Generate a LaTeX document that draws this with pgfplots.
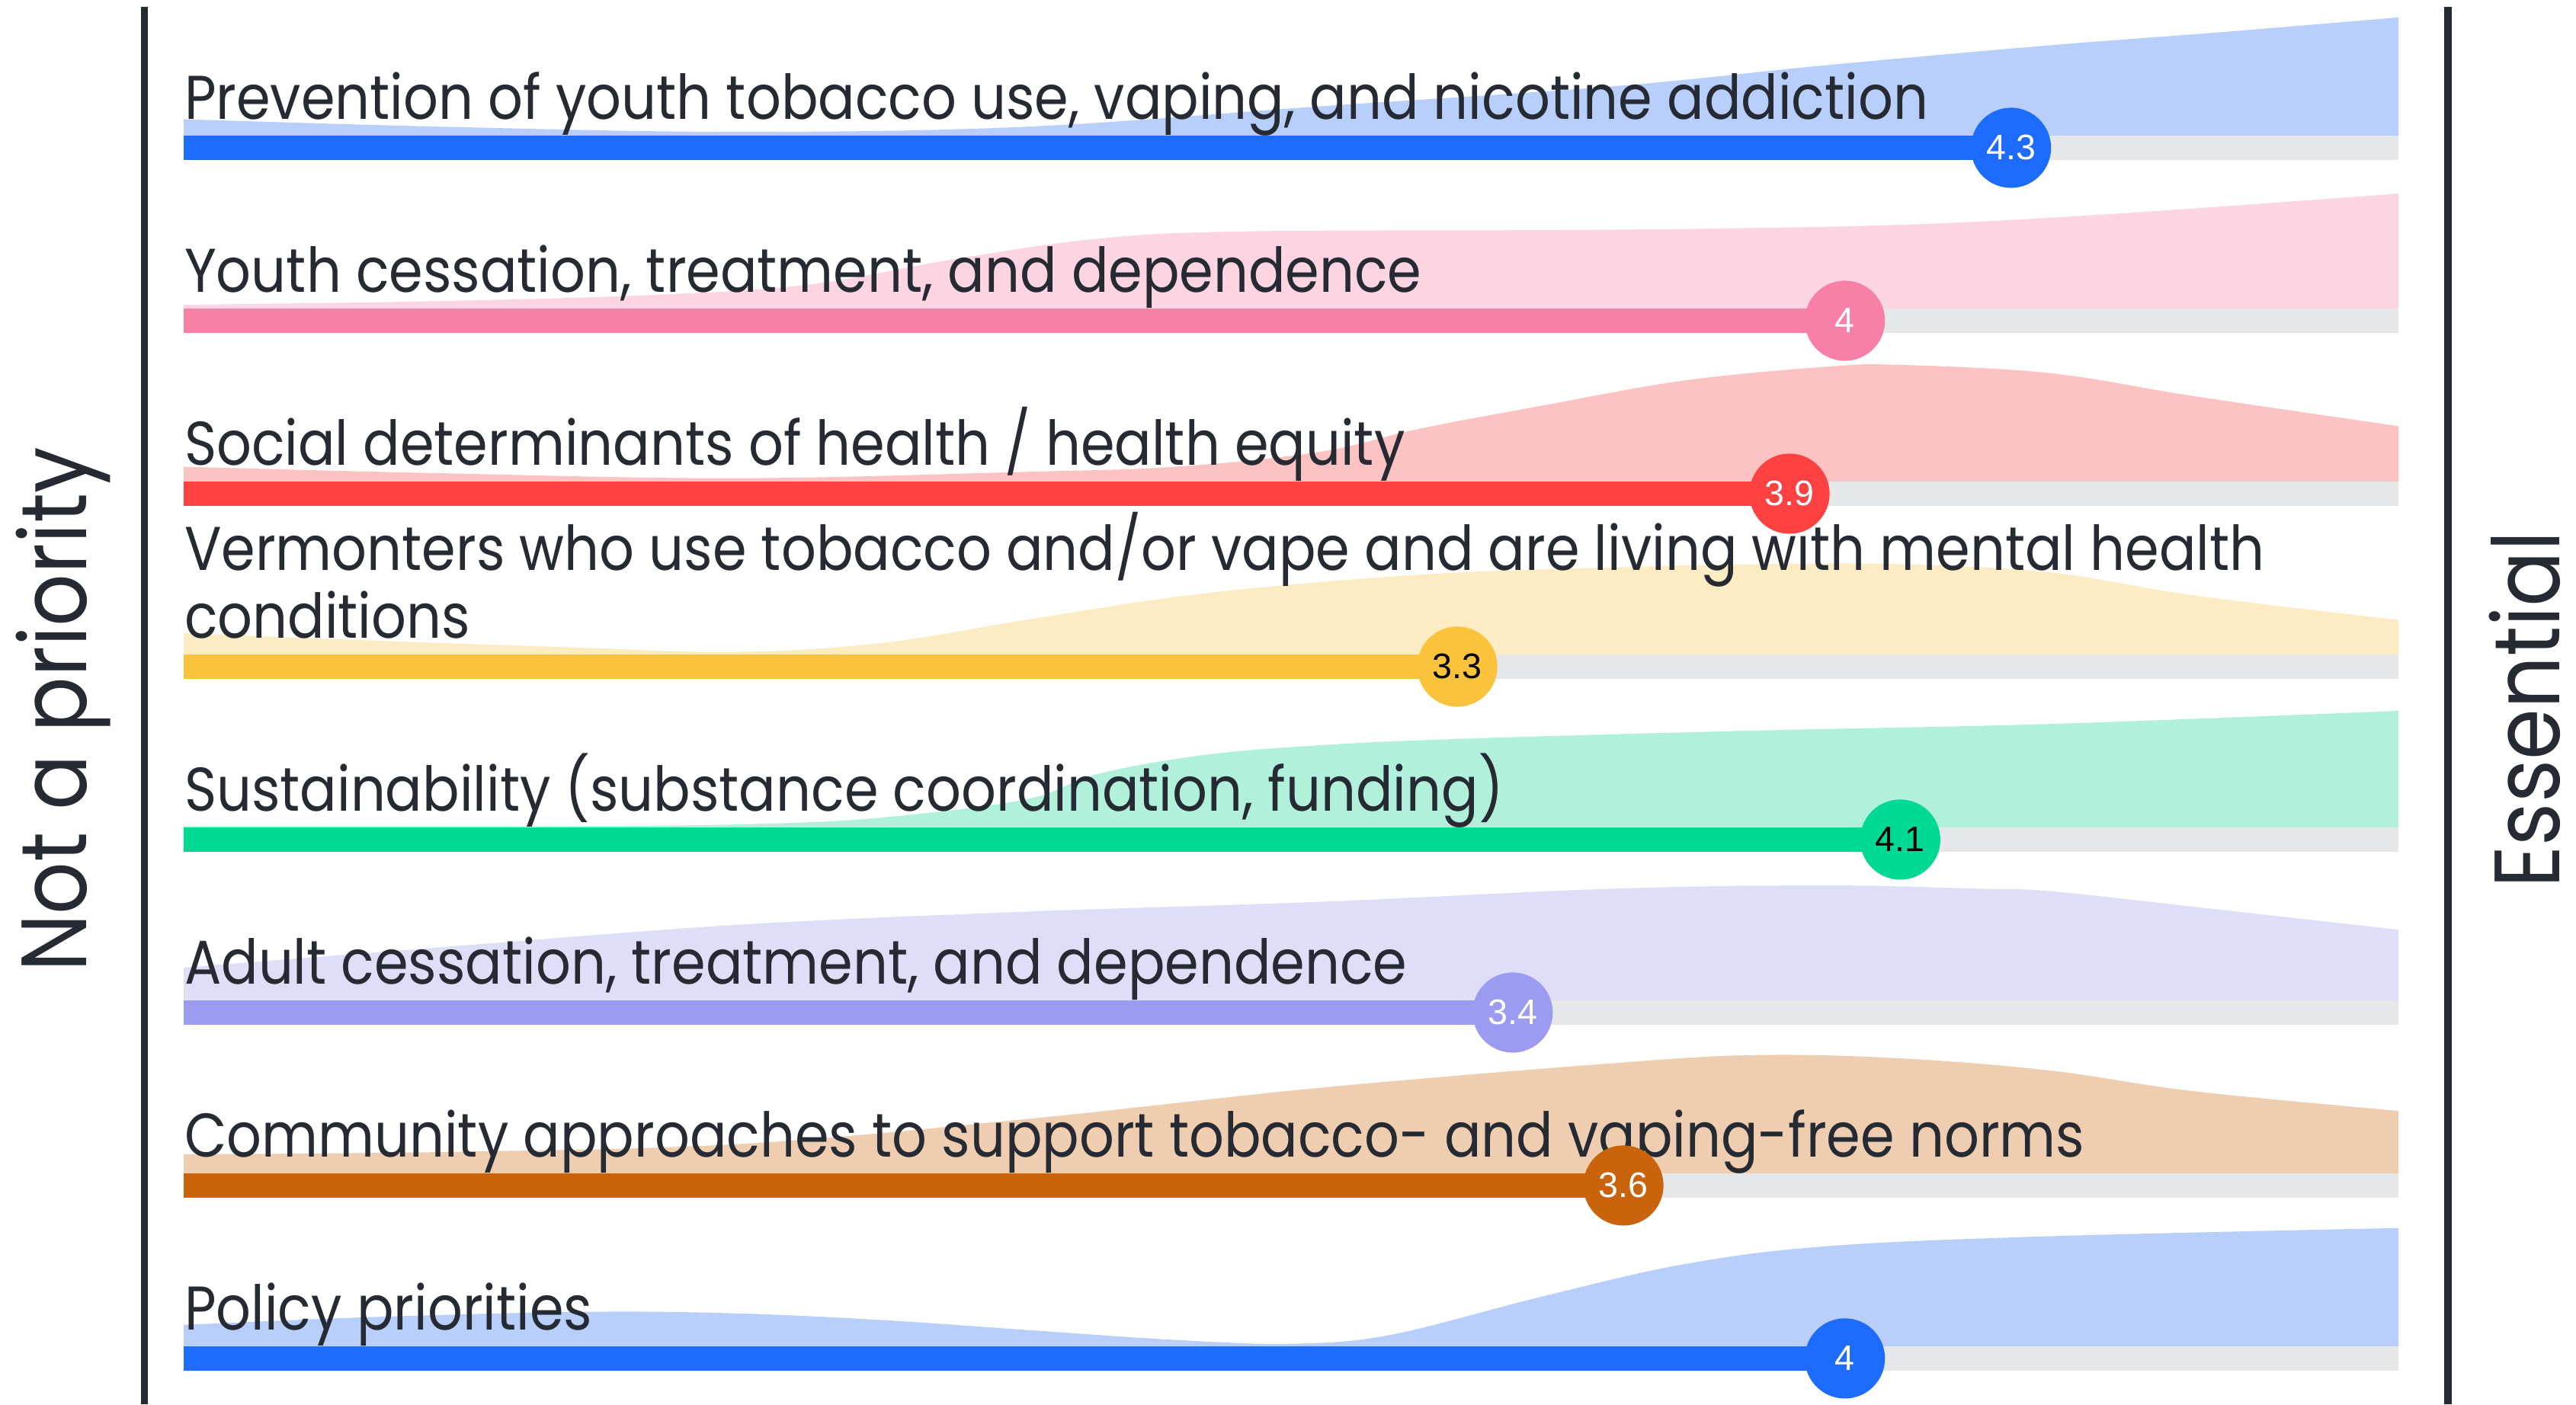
\documentclass[border=0pt]{standalone}
\usepackage{pgfplots}
\pgfplotsset{compat=1.18}
\usepgfplotslibrary{fillbetween}
\usepackage{fontspec}
\setmainfont{Poppins}
\newfontfamily\lab[FakeStretch=0.886]{Poppins}
\newfontfamily\num{Liberation Sans}
\definecolor{blueD}{HTML}{1E6BFF}
\definecolor{blueL}{HTML}{B8CFFB}
\definecolor{pinkD}{HTML}{F880A7}
\definecolor{pinkL}{HTML}{FDD5E2}
\definecolor{redD}{HTML}{FF4141}
\definecolor{redL}{HTML}{FDC3C3}
\definecolor{yelD}{HTML}{FBC33B}
\definecolor{yelL}{HTML}{FDEBC4}
\definecolor{grnD}{HTML}{00D993}
\definecolor{grnL}{HTML}{B1F1DC}
\definecolor{lavD}{HTML}{9A9BF1}
\definecolor{lavL}{HTML}{DEDEF9}
\definecolor{orgD}{HTML}{C9640C}
\definecolor{orgL}{HTML}{EFCDB1}
\definecolor{grayB}{HTML}{E6E7E9}
\definecolor{ink}{HTML}{262A33}
\newcommand{\labfont}{\lab\fontsize{18.8}{22}\selectfont}
\newcommand{\sidefont}{\lab\fontsize{28.2}{32}\selectfont}
\begin{document}
\begin{tikzpicture}
\begin{axis}[scale only axis, width=784pt, height=427.5pt,
  xmin=0.668, xmax=5.3205, ymin=0, ymax=855,
  axis lines=none, clip=false,
  dens/.style={draw=none, smooth, tension=0.6},
  base/.style={draw=none},
  gbar/.style={draw=grayB, line width=7.4pt, line cap=butt},
  cbar/.style={line width=7.4pt, line cap=butt},
  dot/.style={only marks, mark=*, mark size=12pt, point meta=explicit symbolic, nodes near coords,
    every node near coord/.append style={anchor=center, inner sep=0pt, font=\num\fontsize{10.8}{12}\selectfont}},
]
% ---------- densities (height above bar top, in px) ----------
\addplot[dens, name path=d1, y filter/.expression={y+772.4}] coordinates {(1.00,10) (1.47,5.4) (2.00,2.3) (2.52,5.4) (3.05,17.8) (3.58,30) (3.97,43) (4.37,55) (4.68,63) (5.00,72)};
\addplot[base, name path=b1, y filter/.expression={y+772.4}] coordinates {(1,0) (5,0)};
\addplot[fill=blueL, draw=none] fill between[of=d1 and b1];

\addplot[dens, name path=d2, y filter/.expression={y+667.1}] coordinates {(1.00,2.3) (1.47,4.6) (1.86,8.5) (2.13,14.7) (2.39,30) (2.65,42.5) (2.92,47) (3.58,48) (4.10,51) (4.50,58) (5.00,70)};
\addplot[base, name path=b2, y filter/.expression={y+667.1}] coordinates {(1,0) (5,0)};
\addplot[fill=pinkL, draw=none] fill between[of=d2 and b2];

\addplot[dens, name path=d3, y filter/.expression={y+561.8}] coordinates {(1.00,9) (1.47,5) (2.00,2) (2.52,5.9) (2.79,9) (3.05,18) (3.23,32) (3.45,46) (3.71,61.5) (3.97,70) (4.10,71) (4.37,66) (4.63,52) (5.00,33.7)};
\addplot[base, name path=b3, y filter/.expression={y+561.8}] coordinates {(1,0) (5,0)};
\addplot[fill=redL, draw=none] fill between[of=d3 and b3];

\addplot[dens, name path=d4, y filter/.expression={y+456.5}] coordinates {(1.00,13) (1.34,8.5) (1.73,4) (2.00,1.5) (2.26,7) (2.52,21) (2.79,35) (3.05,44) (3.31,50) (3.58,53) (3.84,55) (4.10,55) (4.37,50) (4.63,36) (5.00,21)};
\addplot[base, name path=b4, y filter/.expression={y+456.5}] coordinates {(1,0) (5,0)};
\addplot[fill=yelL, draw=none] fill between[of=d4 and b4];

\addplot[dens, name path=d5, y filter/.expression={y+351.2}] coordinates {(1.00,0.8) (1.73,0.8) (2.05,2.3) (2.26,6) (2.52,17) (2.65,32.5) (2.84,44) (3.05,50) (3.31,54) (3.84,59) (4.37,63) (5.00,71)};
\addplot[base, name path=b5, y filter/.expression={y+351.2}] coordinates {(1,0) (5,0)};
\addplot[fill=grnL, draw=none] fill between[of=d5 and b5];

\addplot[dens, name path=d6, y filter/.expression={y+245.9}] coordinates {(1.00,20) (1.47,32.5) (2.00,46) (2.52,54) (3.05,60) (3.58,68) (3.97,70) (4.24,68) (4.37,66.5) (4.63,57) (5.00,43)};
\addplot[base, name path=b6, y filter/.expression={y+245.9}] coordinates {(1,0) (5,0)};
\addplot[fill=lavL, draw=none] fill between[of=d6 and b6];

\addplot[dens, name path=d7, y filter/.expression={y+140.6}] coordinates {(1.00,11.6) (1.47,13) (2.00,17.8) (2.52,33) (3.05,52) (3.58,67) (3.84,72) (4.10,70) (4.37,62.6) (4.63,50) (5.00,38)};
\addplot[base, name path=b7, y filter/.expression={y+140.6}] coordinates {(1,0) (5,0)};
\addplot[fill=orgL, draw=none] fill between[of=d7 and b7];

\addplot[dens, name path=d8, y filter/.expression={y+35.3}] coordinates {(1.00,13) (1.34,17.8) (1.73,21) (2.00,20) (2.26,16) (2.52,10) (2.79,3.9) (3.00,1.5) (3.18,7) (3.45,30) (3.71,50) (3.97,61) (4.37,67) (5.00,72)};
\addplot[base, name path=b8, y filter/.expression={y+35.3}] coordinates {(1,0) (5,0)};
\addplot[fill=blueL, draw=none] fill between[of=d8 and b8];

% ---------- gray tracks ----------
\addplot[gbar] coordinates {(1,765) (5,765)};
\addplot[gbar] coordinates {(1,659.7) (5,659.7)};
\addplot[gbar] coordinates {(1,554.4) (5,554.4)};
\addplot[gbar] coordinates {(1,449.1) (5,449.1)};
\addplot[gbar] coordinates {(1,343.8) (5,343.8)};
\addplot[gbar] coordinates {(1,238.5) (5,238.5)};
\addplot[gbar] coordinates {(1,133.2) (5,133.2)};
\addplot[gbar] coordinates {(1,27.9) (5,27.9)};
% ---------- mean bars ----------
\addplot[cbar, draw=blueD] coordinates {(1,765) (4.3,765)};
\addplot[cbar, draw=pinkD] coordinates {(1,659.7) (4.0,659.7)};
\addplot[cbar, draw=redD] coordinates {(1,554.4) (3.9,554.4)};
\addplot[cbar, draw=yelD] coordinates {(1,449.1) (3.3,449.1)};
\addplot[cbar, draw=grnD] coordinates {(1,343.8) (4.1,343.8)};
\addplot[cbar, draw=lavD] coordinates {(1,238.5) (3.4,238.5)};
\addplot[cbar, draw=orgD] coordinates {(1,133.2) (3.6,133.2)};
\addplot[cbar, draw=blueD] coordinates {(1,27.9) (4.0,27.9)};
% ---------- frame lines ----------
\addplot[draw=ink, line width=2.3pt] coordinates {(0.9288,851) (0.9288,0)};
\addplot[draw=ink, line width=2.3pt] coordinates {(5.089,851) (5.089,0)};
% ---------- labels ----------
\begin{scope}[every node/.style={anchor=base west, inner sep=0pt, text=ink, font=\labfont}]
\node at (axis cs:1,782.3) {Prevention of youth tobacco use, vaping, and nicotine addiction};
\node at (axis cs:1,677.0) {Youth cessation, treatment, and dependence};
\node at (axis cs:1,571.7) {Social determinants of health / health equity};
\node at (axis cs:1,507.6) {Vermonters who use tobacco and/or vape and are living with mental health};
\node at (axis cs:1,466.6) {conditions};
\node at (axis cs:1,361.1) {Sustainability (substance coordination, funding)};
\node at (axis cs:1,255.8) {Adult cessation, treatment, and dependence};
\node at (axis cs:1,150.5) {Community approaches to support tobacco- and vaping-free norms};
\node at (axis cs:1,45.2) {Policy priorities};
\end{scope}
\node[rotate=90, anchor=base, inner sep=0pt, text depth=0pt, text=ink, font=\sidefont] at (axis cs:0.8249,423) {Not a priority};
\node[rotate=90, anchor=base, inner sep=0pt, text depth=0pt, text=ink, font=\sidefont] at (axis cs:5.2905,423) {Essential};
% ---------- mean dots ----------
\addplot[dot, color=blueD, mark options={fill=blueD}, every node near coord/.append style={text=white}] coordinates {(4.3,765) [4.3]};
\addplot[dot, color=pinkD, mark options={fill=pinkD}, every node near coord/.append style={text=white}] coordinates {(4.0,659.7) [4]};
\addplot[dot, color=redD, mark options={fill=redD}, every node near coord/.append style={text=white}] coordinates {(3.9,554.4) [3.9]};
\addplot[dot, color=yelD, mark options={fill=yelD}, every node near coord/.append style={text=black}] coordinates {(3.3,449.1) [3.3]};
\addplot[dot, color=grnD, mark options={fill=grnD}, every node near coord/.append style={text=black}] coordinates {(4.1,343.8) [4.1]};
\addplot[dot, color=lavD, mark options={fill=lavD}, every node near coord/.append style={text=white}] coordinates {(3.4,238.5) [3.4]};
\addplot[dot, color=orgD, mark options={fill=orgD}, every node near coord/.append style={text=white}] coordinates {(3.6,133.2) [3.6]};
\addplot[dot, color=blueD, mark options={fill=blueD}, every node near coord/.append style={text=white}] coordinates {(4.0,27.9) [4]};
\coordinate (SW) at (rel axis cs:0,0);
\coordinate (NE) at (rel axis cs:1,1);
\end{axis}
\pgfresetboundingbox
\useasboundingbox (SW) rectangle (NE);
\end{tikzpicture}
\end{document}
